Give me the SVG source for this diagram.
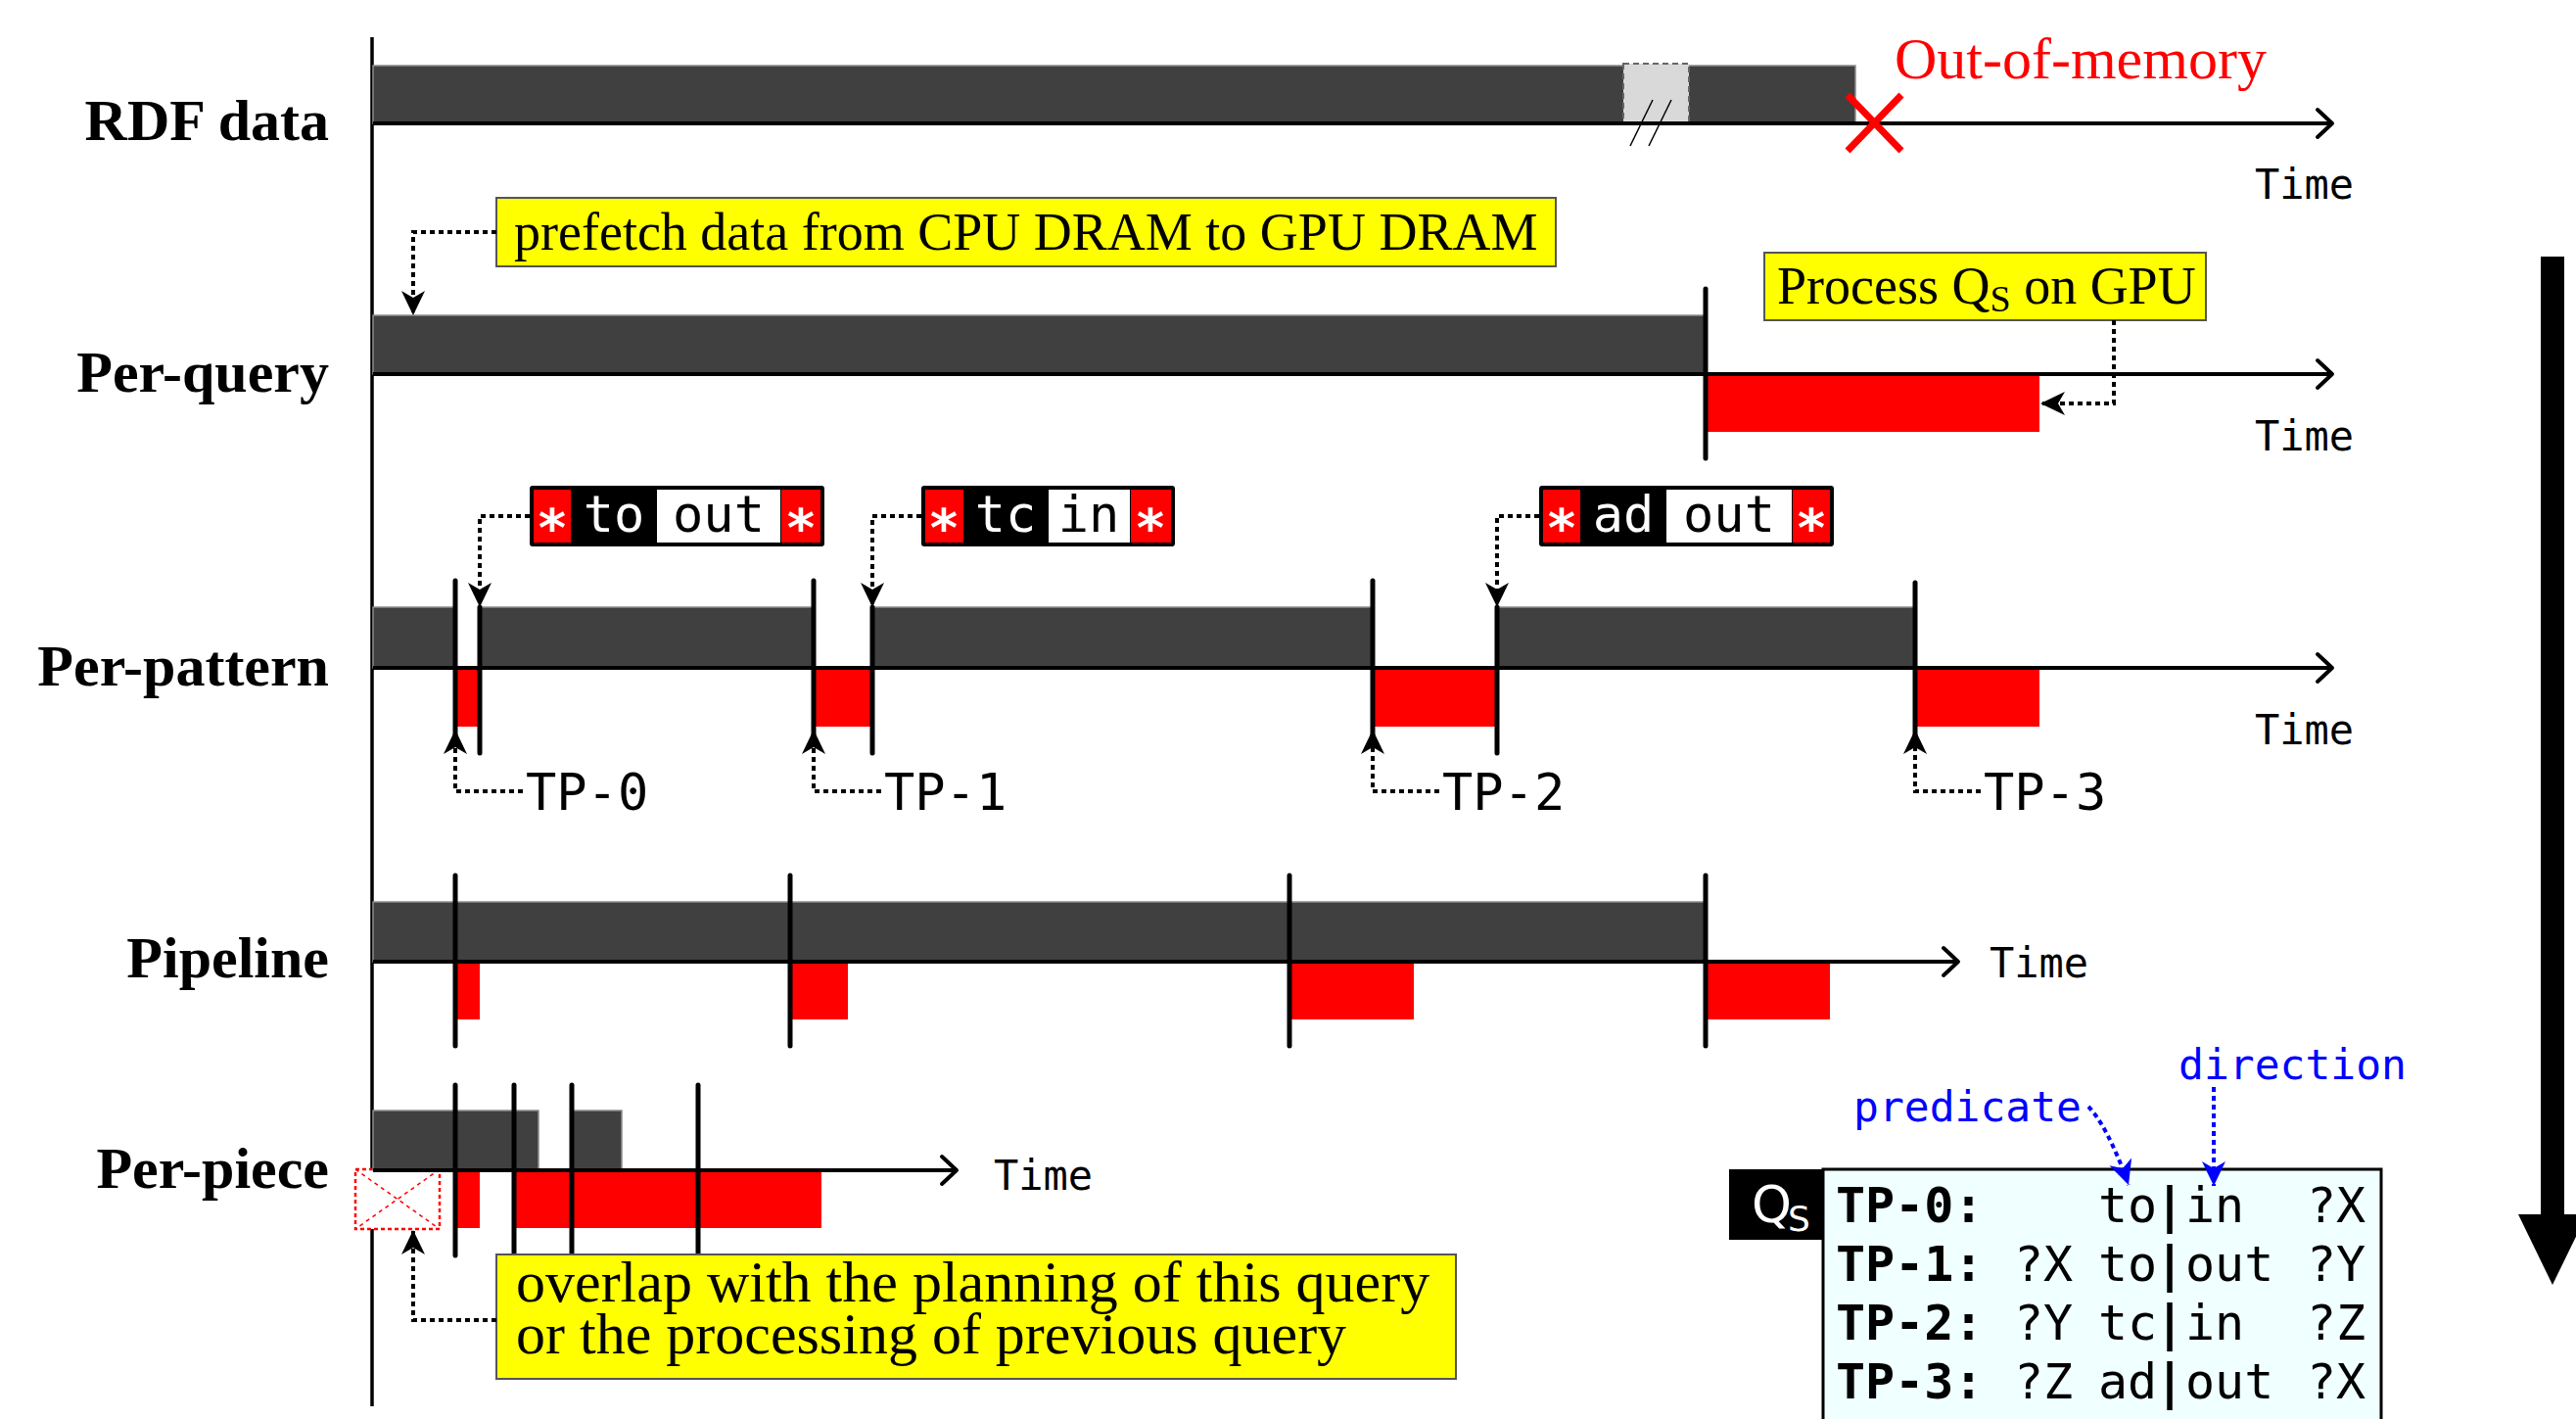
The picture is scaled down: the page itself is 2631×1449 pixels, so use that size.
<svg xmlns="http://www.w3.org/2000/svg" width="2631" height="1449" viewBox="0 0 2631 1449">
<style>
.lbl{font-family:"Liberation Serif","Times New Roman",serif;font-weight:bold;font-size:60px;text-anchor:end;fill:#000}
.serif{font-family:"Liberation Serif","Times New Roman",serif;fill:#000}
.mono{font-family:"DejaVu Sans Mono",monospace}
.time{font-family:"DejaVu Sans Mono",monospace;font-size:42px;fill:#000}
.tp{font-family:"DejaVu Sans Mono",monospace;font-size:52px;fill:#000}
.bar{fill:#404040;stroke:#8c8c8c;stroke-width:1.5}
.red{fill:#ff0000}
.axis{stroke:#000;stroke-width:4;fill:none}
.tick{stroke:#000;stroke-width:5;stroke-linecap:round}
.dot{stroke:#000;stroke-width:4;fill:none;stroke-dasharray:5 4}
.bdot{stroke:#0000ff;stroke-width:4;fill:none;stroke-dasharray:5 4}
.note{fill:#ffff00;stroke:#555;stroke-width:2}
.cell{font-family:"DejaVu Sans Mono",monospace;font-size:52px;text-anchor:middle}
.ast{font-family:"DejaVu Sans Mono",monospace;font-size:54px;font-weight:bold;text-anchor:middle;fill:#fff}
.tbl{font-family:"DejaVu Sans Mono",monospace;font-size:50px;fill:#000}
</style>
<defs>
<marker id="chev" markerUnits="userSpaceOnUse" orient="auto" overflow="visible" refX="0" refY="0" markerWidth="1" markerHeight="1">
<path d="M-15,-14 L0,0 L-15,14" fill="none" stroke="#000" stroke-width="4" stroke-linecap="round" stroke-linejoin="round"/>
</marker>
<marker id="ah" markerUnits="userSpaceOnUse" orient="auto" overflow="visible" refX="0" refY="0" markerWidth="1" markerHeight="1">
<path d="M0,0 L-25,-12 L-18,0 L-25,12 Z" fill="#000"/>
</marker>
<marker id="ahb" markerUnits="userSpaceOnUse" orient="auto" overflow="visible" refX="0" refY="0" markerWidth="1" markerHeight="1">
<path d="M0,0 L-25,-12 L-18,0 L-25,12 Z" fill="#0000ff"/>
</marker>
</defs>
<rect width="2631" height="1449" fill="#fff"/>

<!-- main vertical axis -->
<line x1="380" y1="38" x2="380" y2="1436" stroke="#000" stroke-width="3.5"/>

<!-- Row 1: RDF data -->
<g id="row-rdf">
<text class="lbl" x="336" y="143">RDF data</text>
<rect class="bar" x="381" y="67" width="1514" height="59"/>
<rect x="1658" y="65" width="67" height="61" fill="#d9d9d9" stroke="#666" stroke-width="2" stroke-dasharray="6 4"/>
<line x1="1688" y1="102" x2="1665" y2="149" stroke="#000" stroke-width="1.5"/>
<line x1="1707" y1="102" x2="1684" y2="149" stroke="#000" stroke-width="1.5"/>
<path class="axis" d="M381,126 H2382" marker-end="url(#chev)"/>
<line x1="1887" y1="97" x2="1942" y2="154" stroke="#ff0000" stroke-width="7"/>
<line x1="1942" y1="97" x2="1887" y2="154" stroke="#ff0000" stroke-width="7"/>
<text class="serif" x="1935" y="80" font-size="60" style="fill:#ff0000">Out-of-memory</text>
<text class="time" x="2303" y="203">Time</text>
</g>

<!-- Row 2: Per-query -->
<g id="row-perquery">
<text class="lbl" x="336" y="400">Per-query</text>
<rect class="bar" x="381" y="322" width="1361" height="60"/>
<rect class="red" x="1743" y="382" width="340" height="59"/>
<path class="axis" d="M381,382 H2382" marker-end="url(#chev)"/>
<line class="tick" x1="1742" y1="295" x2="1742" y2="468"/>
<text class="time" x="2303" y="460">Time</text>
</g>

<g id="note-prefetch">
<rect class="note" x="507" y="202" width="1082" height="70"/>
<text class="serif" x="525" y="255" font-size="54">prefetch data from CPU DRAM to GPU DRAM</text>
</g>

<g id="note-process">
<rect class="note" x="1802" y="258" width="451" height="69"/>
<text class="serif" x="1815" y="310" font-size="54">Process Q<tspan font-size="38" dy="8">S</tspan><tspan dy="-8"> on GPU</tspan></text>
</g>

<!-- Row 3: Per-pattern -->
<g id="row-perpattern">
<text class="lbl" x="336" y="700">Per-pattern</text>
<rect class="bar" x="381" y="620" width="84" height="62"/>
<rect class="bar" x="490" y="620" width="341" height="62"/>
<rect class="bar" x="891" y="620" width="511" height="62"/>
<rect class="bar" x="1529" y="620" width="427" height="62"/>
<rect class="red" x="465" y="682" width="25" height="60"/>
<rect class="red" x="831" y="682" width="60" height="60"/>
<rect class="red" x="1402" y="682" width="127" height="60"/>
<rect class="red" x="1956" y="682" width="127" height="60"/>
<path class="axis" d="M381,682 H2382" marker-end="url(#chev)"/>
<line class="tick" x1="465" y1="593" x2="465" y2="760"/>
<line class="tick" x1="490" y1="620" x2="490" y2="769"/>
<line class="tick" x1="831" y1="593" x2="831" y2="760"/>
<line class="tick" x1="891" y1="620" x2="891" y2="769"/>
<line class="tick" x1="1402" y1="593" x2="1402" y2="760"/>
<line class="tick" x1="1529" y1="620" x2="1529" y2="769"/>
<line class="tick" x1="1956" y1="595" x2="1956" y2="760"/>
<text class="time" x="2303" y="760">Time</text>
<text class="tp" x="537" y="827">TP-0</text>
<text class="tp" x="903" y="827">TP-1</text>
<text class="tp" x="1473" y="827">TP-2</text>
<text class="tp" x="2026" y="827">TP-3</text>
</g>

<g id="lbl-to-out">
<rect x="541" y="496" width="301" height="62" rx="3" fill="#000"/>
<rect x="545" y="500" width="38" height="54" fill="#ff0000"/>
<rect x="671" y="500" width="126" height="54" fill="#fff"/>
<rect x="798" y="500" width="40" height="54" fill="#ff0000"/>
<text class="ast" x="564" y="558">*</text>
<text class="cell" x="627" y="543" fill="#fff">to</text>
<text class="cell" x="734" y="543" fill="#000">out</text>
<text class="ast" x="818" y="558">*</text>
</g>

<g id="lbl-tc-in">
<rect x="941" y="496" width="259" height="62" rx="3" fill="#000"/>
<rect x="945" y="500" width="39" height="54" fill="#ff0000"/>
<rect x="1071" y="500" width="83" height="54" fill="#fff"/>
<rect x="1155" y="500" width="41" height="54" fill="#ff0000"/>
<text class="ast" x="964" y="558">*</text>
<text class="cell" x="1027" y="543" fill="#fff">tc</text>
<text class="cell" x="1112" y="543" fill="#000">in</text>
<text class="ast" x="1175" y="558">*</text>
</g>

<g id="lbl-ad-out">
<rect x="1572" y="496" width="301" height="62" rx="3" fill="#000"/>
<rect x="1576" y="500" width="38" height="54" fill="#ff0000"/>
<rect x="1702" y="500" width="128" height="54" fill="#fff"/>
<rect x="1831" y="500" width="38" height="54" fill="#ff0000"/>
<text class="ast" x="1595" y="558">*</text>
<text class="cell" x="1658" y="543" fill="#fff">ad</text>
<text class="cell" x="1766" y="543" fill="#000">out</text>
<text class="ast" x="1850" y="558">*</text>
</g>

<!-- Row 4: Pipeline -->
<g id="row-pipeline">
<text class="lbl" x="336" y="998">Pipeline</text>
<rect class="bar" x="381" y="921" width="1361" height="61"/>
<rect class="red" x="465" y="982" width="25" height="59"/>
<rect class="red" x="807" y="982" width="59" height="59"/>
<rect class="red" x="1317" y="982" width="127" height="59"/>
<rect class="red" x="1742" y="982" width="127" height="59"/>
<path class="axis" d="M381,982 H2000" marker-end="url(#chev)"/>
<line class="tick" x1="465" y1="894" x2="465" y2="1068"/>
<line class="tick" x1="807" y1="894" x2="807" y2="1068"/>
<line class="tick" x1="1317" y1="894" x2="1317" y2="1068"/>
<line class="tick" x1="1742" y1="894" x2="1742" y2="1068"/>
<text class="time" x="2032" y="998">Time</text>
</g>

<!-- Row 5: Per-piece -->
<g id="row-perpiece">
<text class="lbl" x="336" y="1213">Per-piece</text>
<rect x="363" y="1194" width="86" height="61" fill="#fff" stroke="#ff0000" stroke-width="2.5" stroke-dasharray="4 3"/>
<line x1="363" y1="1194" x2="449" y2="1255" stroke="#ff0000" stroke-width="1.5" stroke-dasharray="4 4"/>
<line x1="449" y1="1194" x2="363" y2="1255" stroke="#ff0000" stroke-width="1.5" stroke-dasharray="4 4"/>
<rect class="bar" x="381" y="1134" width="169" height="61"/>
<rect class="bar" x="584" y="1134" width="51" height="61"/>
<rect class="red" x="465" y="1195" width="25" height="59"/>
<rect class="red" x="525" y="1195" width="314" height="59"/>
<path class="axis" d="M381,1195 H977" marker-end="url(#chev)"/>
<line class="tick" x1="465" y1="1108" x2="465" y2="1282"/>
<line class="tick" x1="525" y1="1108" x2="525" y2="1282"/>
<line class="tick" x1="584" y1="1108" x2="584" y2="1282"/>
<line class="tick" x1="713" y1="1108" x2="713" y2="1282"/>
<text class="time" x="1015" y="1215">Time</text>
</g>

<g id="note-overlap">
<rect class="note" x="507" y="1281" width="980" height="127"/>
<text class="serif" font-size="60"><tspan x="527" y="1329">overlap with the planning of this query</tspan><tspan x="527" y="1382">or the processing of previous query</tspan></text>
</g>

<!-- Query table -->
<g id="query-table">
<rect x="1862" y="1194" width="570" height="270" fill="#f0ffff" stroke="#000" stroke-width="3"/>
<rect x="1766" y="1194" width="96" height="72" fill="#000"/>
<text x="1789" y="1248" font-family="DejaVu Sans, sans-serif" font-size="52" fill="#fff">Q</text>
<text x="1826" y="1257" font-family="DejaVu Sans, sans-serif" font-size="36" fill="#fff">S</text>
<text class="tbl" y="1248"><tspan x="1875" font-weight="bold">TP-0:</tspan><tspan x="2143">to</tspan><tspan x="2201" font-weight="bold">|</tspan><tspan x="2232">in</tspan><tspan x="2356">?X</tspan></text>
<text class="tbl" y="1308"><tspan x="1875" font-weight="bold">TP-1:</tspan><tspan x="2057">?X</tspan><tspan x="2143">to</tspan><tspan x="2201" font-weight="bold">|</tspan><tspan x="2232">out</tspan><tspan x="2356">?Y</tspan></text>
<text class="tbl" y="1368"><tspan x="1875" font-weight="bold">TP-2:</tspan><tspan x="2057">?Y</tspan><tspan x="2143">tc</tspan><tspan x="2201" font-weight="bold">|</tspan><tspan x="2232">in</tspan><tspan x="2356">?Z</tspan></text>
<text class="tbl" y="1428"><tspan x="1875" font-weight="bold">TP-3:</tspan><tspan x="2057">?Z</tspan><tspan x="2143">ad</tspan><tspan x="2201" font-weight="bold">|</tspan><tspan x="2232">out</tspan><tspan x="2356">?X</tspan></text>
</g>

<g id="note-predicate">
<text class="mono" x="1893" y="1145" font-size="43" fill="#0000ff">predicate</text>
</g>
<g id="note-direction">
<text class="mono" x="2225" y="1102" font-size="43" fill="#0000ff">direction</text>
</g>

<!-- big progress arrow -->
<g id="big-arrow">
<rect x="2595" y="262" width="24" height="980" fill="#000"/>
<polygon points="2572,1240 2642,1240 2607,1312" fill="#000"/>
</g>

<!-- connectors -->
<g id="connectors">
<path class="dot" d="M507,237 H422 V322" marker-end="url(#ah)"/>
<path class="dot" d="M2159,327 V412 H2084" marker-end="url(#ah)"/>
<path class="dot" d="M541,527 H490 V620" marker-end="url(#ah)"/>
<path class="dot" d="M941,527 H891 V620" marker-end="url(#ah)"/>
<path class="dot" d="M1572,527 H1529 V620" marker-end="url(#ah)"/>
<path class="dot" d="M534,808 H465 V745" marker-end="url(#ah)"/>
<path class="dot" d="M900,808 H831 V745" marker-end="url(#ah)"/>
<path class="dot" d="M1470,808 H1402 V745" marker-end="url(#ah)"/>
<path class="dot" d="M2023,808 H1956 V745" marker-end="url(#ah)"/>
<path class="dot" d="M507,1348 H422 V1256" marker-end="url(#ah)"/>
<path class="bdot" d="M2133,1130 C2145,1142 2160,1170 2174,1210" marker-end="url(#ahb)"/>
<path class="bdot" d="M2261,1110 V1211" marker-end="url(#ahb)"/>
</g>
</svg>
